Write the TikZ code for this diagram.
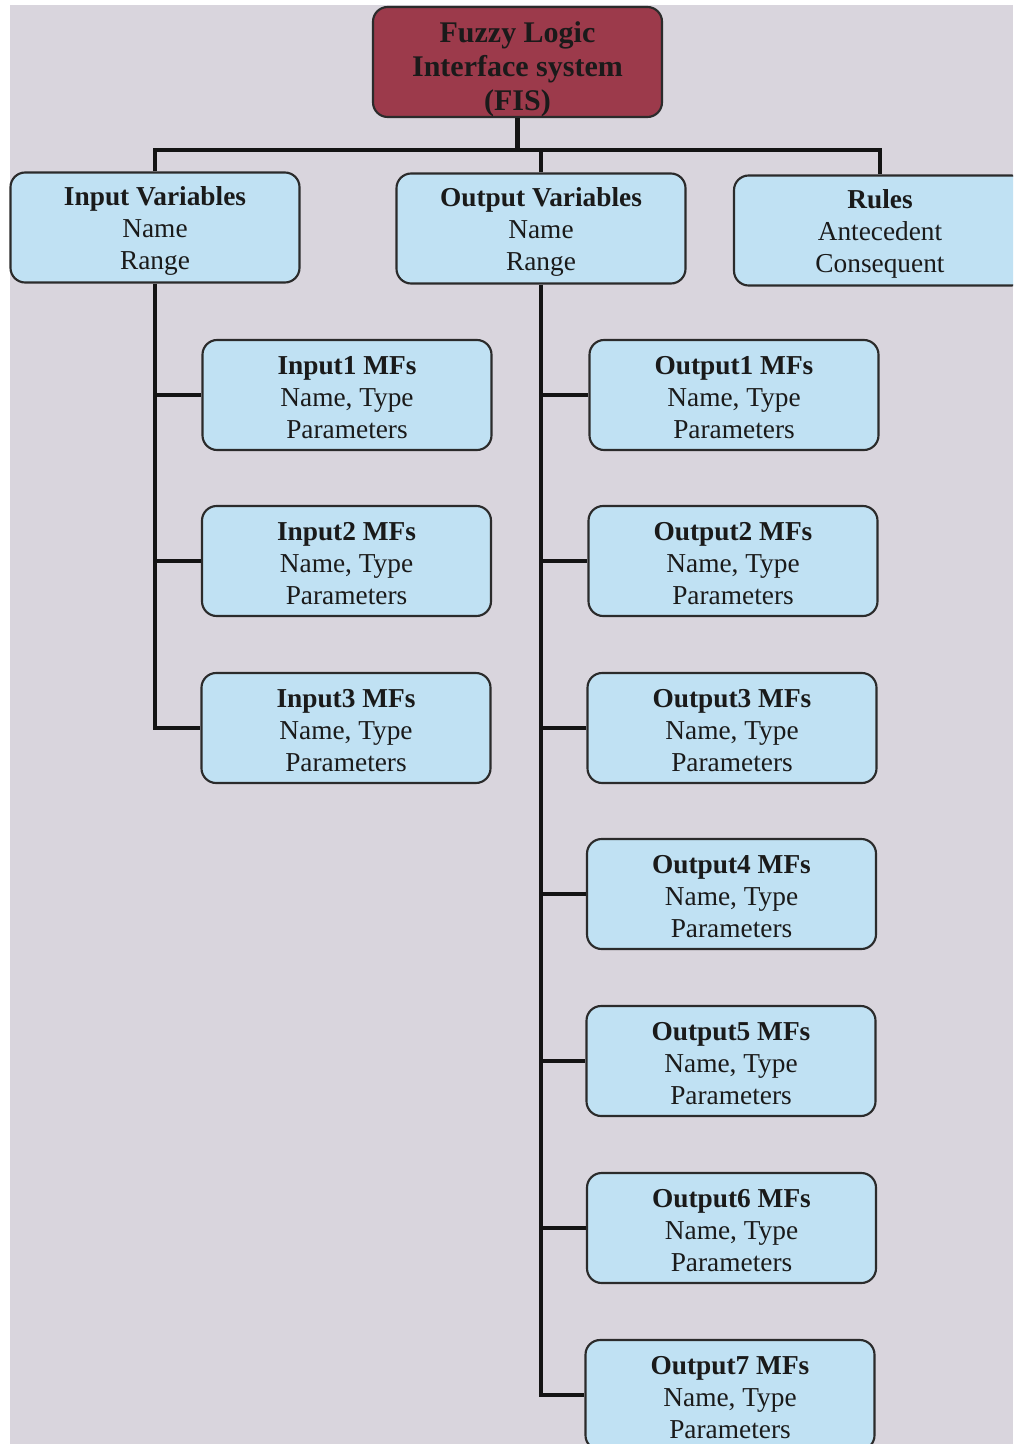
\documentclass[tikz,border=0pt]{standalone}
\usepackage{fontspec}
\setmainfont{Liberation Serif}
\definecolor{paper}{HTML}{D9D5DD}
\definecolor{boxblue}{HTML}{C0E1F3}
\definecolor{boxred}{HTML}{9C3A4B}
\definecolor{edge}{HTML}{2B2B2B}
\definecolor{ink}{HTML}{1A1A1A}
\tikzset{
  card/.style={draw=edge, line width=1.6pt, fill=boxblue, rounded corners=11pt,
    minimum width=216.75pt, minimum height=82.5pt, inner sep=0pt},
  topcard/.style={card, fill=boxred},
  txt/.style={align=center, text=ink, inner sep=0pt, yshift=-2.25pt,
    font=\fontsize{20.5}{24}\selectfont},
  toptxt/.style={txt, yshift=-3.5pt, font=\bfseries\fontsize{22.5}{25.5}\selectfont},
  says/.style={label={[txt]center:{#1}}},
  conn/.style={draw=black!92, line width=3.4pt, line join=miter}
}
\newcommand{\mf}[1]{\textbf{#1}\\Name, Type\\Parameters}
\begin{document}
\begin{tikzpicture}[x=0.75pt,y=-0.75pt]
\useasboundingbox (0,0) rectangle (1013,1444);
\clip (0,0) rectangle (1013,1444);
% paper
\fill[white] (0,0) rectangle (1013,1444);
\fill[paper] (10,5) rectangle (1013,1444);

% root
\node[topcard, label={[toptxt]center:{Fuzzy Logic\\Interface system\\(FIS)}}]
  (fis) at (517.5,62) {};

% first level
\node[card, says={\textbf{Input Variables}\\Name\\Range}] (iv) at (155,227.5) {};
\node[card, says={\textbf{Output Variables}\\Name\\Range}] (ov) at (541,228.5) {};
\node[card, minimum width=219pt, says={\textbf{Rules}\\Antecedent\\Consequent}]
  (rules) at (880,230.5) {};

% input membership functions
\node[card, says={\mf{Input1 MFs}}] (i1) at (347,395) {};
\node[card, says={\mf{Input2 MFs}}] (i2) at (346.5,561) {};
\node[card, says={\mf{Input3 MFs}}] (i3) at (346,728) {};

% output membership functions
\node[card, says={\mf{Output1 MFs}}] (o1) at (734,395) {};
\node[card, says={\mf{Output2 MFs}}] (o2) at (733,561) {};
\node[card, says={\mf{Output3 MFs}}] (o3) at (732,728) {};
\node[card, says={\mf{Output4 MFs}}] (o4) at (731.5,894) {};
\node[card, says={\mf{Output5 MFs}}] (o5) at (731,1061) {};
\node[card, says={\mf{Output6 MFs}}] (o6) at (731.5,1228) {};
\node[card, says={\mf{Output7 MFs}}] (o7) at (730,1395) {};

% bus from the root to the first level
\coordinate (bus) at (517.5,150);
\draw[conn] (fis.south) -- (bus);
\draw[conn] (iv.north) -- (iv.north |- bus) -- (rules.north |- bus) -- (rules.north);
\draw[conn] (ov.north) -- (ov.north |- bus);

% trunks and branches
\draw[conn] (iv.south) -- (iv.south |- i3.west) -- (i3.west);
\draw[conn] (iv.south |- i1.west) -- (i1.west);
\draw[conn] (iv.south |- i2.west) -- (i2.west);
\draw[conn] (ov.south) -- (ov.south |- o7.west) -- (o7.west);
\foreach \n in {o1,o2,o3,o4,o5,o6}
  \draw[conn] (ov.south |- \n.west) -- (\n.west);
\end{tikzpicture}
\end{document}
